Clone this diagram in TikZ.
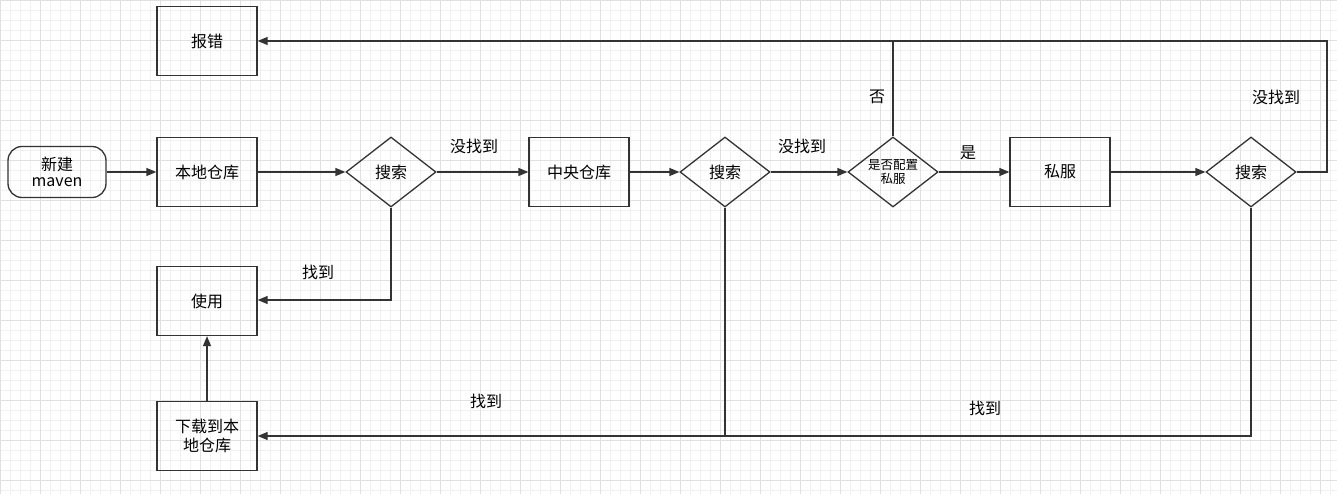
\documentclass[tikz,border=0pt]{standalone}
\usepackage{fontspec}
\setmainfont{Noto Sans CJK SC}
\usetikzlibrary{shapes.geometric,arrows.meta}
\tikzset{
  box/.style={draw=black!80,line width=1.3pt,minimum width=100pt,minimum height=69pt,inner sep=0pt,font=\fontsize{16}{19}\selectfont,align=center},
  dia/.style={draw=black!80,line width=1.3pt,diamond,shape aspect=1.2857,minimum width=90pt,minimum height=70pt,inner sep=0pt,font=\fontsize{16}{19}\selectfont,align=center},
  line/.style={draw=black!80,line width=1.3pt},
  arr/.style={line,-{Triangle[length=10pt,width=8pt]}},
  lbl/.style={font=\fontsize{16}{19}\selectfont}
}
\begin{document}
\begin{tikzpicture}[x=1pt,y=-1pt]
\useasboundingbox (0,0) rectangle (1337,494);
% grid
\draw [black!6,line width=0.5pt] (0,0) grid[step=10pt] (1337,494);
\draw [black!12,line width=0.6pt] (0,0) grid[step=40pt] (1337,494);

% nodes
\node [box,rounded corners=14pt,minimum width=98pt,minimum height=51pt] (start) at (57,172) {新建\\[-3pt]maven};
\node [box] (err) at (207,41) {报错};
\node [box] (local) at (207,172) {本地仓库};
\node [dia] (s1) at (391,172) {搜索};
\node [box] (central) at (579,172) {中央仓库};
\node [dia] (s2) at (725,172) {搜索};
\node [dia,font=\fontsize{12.5}{14}\selectfont] (cfg) at (893,172) {是否配置\\私服};
\node [box] (priv) at (1060,172) {私服};
\node [dia] (s3) at (1251,172) {搜索};
\node [box] (use) at (207,301) {使用};
\node [box] (down) at (207,436) {下载到本\\地仓库};
\coordinate (c1) at (391,300);
\coordinate (c2) at (893,41);
\coordinate (c3) at (1327,172);
\coordinate (c4) at (1327,41);
\coordinate (c5) at (1251,436);
\coordinate (c6) at (725,436);

% connectors
\draw [arr] (start) -- (local);
\draw [arr] (local) -- (s1);
\draw [arr] (s1) -- (central);
\draw [arr] (central) -- (s2);
\draw [arr] (s2) -- (cfg);
\draw [arr] (cfg) -- (priv);
\draw [arr] (priv) -- (s3);
\draw [arr] (s1.south) -- (c1) -- (use.east |- c1);
\draw [line] (cfg.north) -- (c2);
\draw [arr] (s3.east) -- (c3) -- (c4) -- (err.east);
\draw [arr] (s3.south) -- (c5) -- (down.east);
\draw [line] (s2.south) -- (c6);
\draw [arr] (down) -- (use);

% labels
\node [lbl] (l1) at (474,146) {没找到};
\node [lbl] (l2) at (802,146) {没找到};
\node [lbl] (l3) at (968,153) {是};
\node [lbl] (l4) at (318,272) {找到};
\node [lbl] (l5) at (877,97) {否};
\node [lbl] (l6) at (1276,97) {没找到};
\node [lbl] (l7) at (486,401) {找到};
\node [lbl] (l8) at (985,408) {找到};
\end{tikzpicture}
\end{document}
